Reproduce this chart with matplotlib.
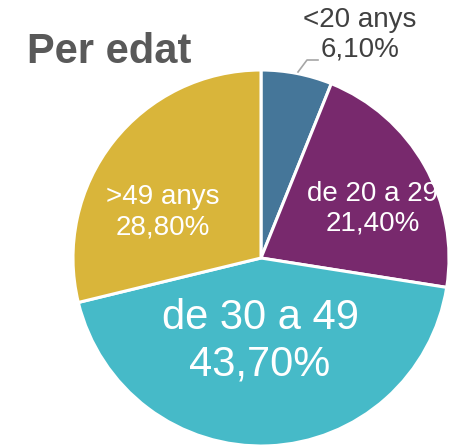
import matplotlib.pyplot as plt

# Data
categories = ["<20 anys", "de 20 a 29", "de 30 a 49", ">49 anys"]
shares = [6.10, 21.40, 43.70, 28.80]
colors = ["#457699", "#78296D", "#46BAC8", "#D9B53A"]

plt.rcParams['font.family'] = ['Liberation Sans', 'DejaVu Sans']

fig = plt.figure(figsize=(4.5, 4.46), dpi=100)
# axes so that the pie centre sits at about (261, 258) px with radius 188 px
ax = fig.add_axes([73 / 450, 0, 376 / 450, 376 / 446])
wedges, _ = ax.pie(shares, colors=colors, startangle=90, counterclock=False,
                   wedgeprops=dict(edgecolor="white", linewidth=2.2))
ax.set_xlim(-1, 1)
ax.set_ylim(-1, 1)
ax.set_aspect("equal")
ax.axis("off")


def fmt(v):
    return ("%.2f%%" % v).replace(".", ",")


def px(x, y):
    # pixel position -> data coords of the pie
    return (x - 261) / 188, (258 - y) / 188


# Labels inside the slices
inner = {1: (373, 209, 20), 2: (260, 341, 30), 3: (163, 212, 20)}
for i, (x, y, size) in inner.items():
    ax.text(*px(x, y), categories[i] + "\n" + fmt(shares[i]), ha="center", va="center",
            fontsize=size, color="white", linespacing=1.2, clip_on=False)

# Small slice label outside with a leader line
ax.text(*px(360, 35), categories[0] + "\n" + fmt(shares[0]), ha="center", va="center",
        fontsize=20, color="#404040", linespacing=1.2, clip_on=False)
lx, ly = zip(px(298, 72), px(307, 60), px(318, 60))
ax.plot(lx, ly, color="#A6A6A6", linewidth=1.2, clip_on=False)

fig.text(27 / 450, 1 - 52 / 446, "Per edat", fontsize=30, fontweight="bold",
         color="#595959", ha="left", va="center")

fig.savefig("out.png", dpi=100)
